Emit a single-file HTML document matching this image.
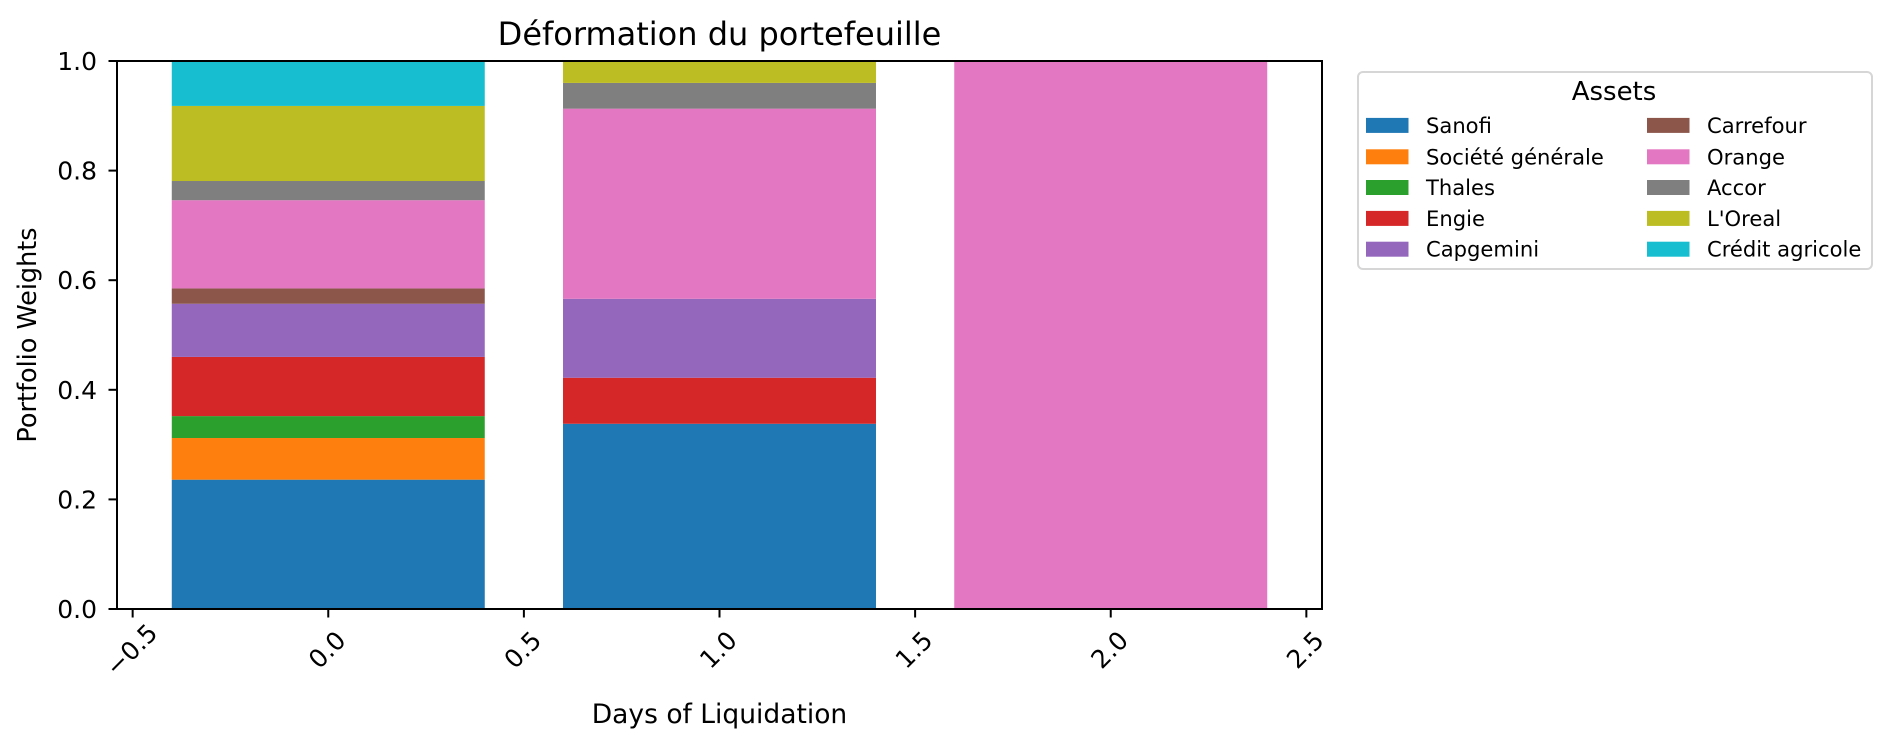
<!DOCTYPE html>
<html><head><meta charset="utf-8"><style>
html,body{margin:0;padding:0;background:#fff;}
svg{display:block;font-family:"DejaVu Sans","Liberation Sans",sans-serif;}
</style></head><body>
<svg id="chart" width="1890" height="748" viewBox="0 0 1890 748" xmlns="http://www.w3.org/2000/svg">
<rect width="1890" height="748" fill="#fff"/>
<g id="bars"></g>
<g id="axes"></g>
<g id="legend"></g>
</svg>
<script>
const categories = [0, 1, 2];
const assets = ["Sanofi","Société générale","Thales","Engie","Capgemini","Carrefour","Orange","Accor","L'Oreal","Crédit agricole"];
const colors = ["#1f77b4","#ff7f0e","#2ca02c","#d62728","#9467bd","#8c564b","#e377c2","#7f7f7f","#bcbd22","#17becf"];
const day0 = [0.236,0.076,0.040,0.108,0.097,0.028,0.161,0.035,0.137,0.082];
const day1 = [0.338,0,0,0.084,0.144,0,0.347,0.047,0.040,0];
const day2 = [0,0,0,0,0,0,1,0,0,0];
const series = [day0, day1, day2];
const xTicks = [-0.5,0,0.5,1,1.5,2,2.5];
const xTickLabels = ["\u22120.5","0.0","0.5","1.0","1.5","2.0","2.5"];
const yTicks = [0,0.2,0.4,0.6,0.8,1.0];
const yTickLabels = ["0.0","0.2","0.4","0.6","0.8","1.0"];

const NS="http://www.w3.org/2000/svg";
const L=117,R=1322,T=61,B=609;
const xmin=-0.54,xmax=2.54;
const X=v=>L+(v-xmin)/(xmax-xmin)*(R-L);
const Y=v=>B-v*(B-T);
function mk(tag,attrs,parent){const e=document.createElementNS(NS,tag);for(const k in attrs)e.setAttribute(k,attrs[k]);parent.appendChild(e);return e;}

const bars=document.getElementById('bars');
categories.forEach((c,ci)=>{
  let base=0;
  series[ci].forEach((v,ai)=>{
    if(v>0){
      const r=mk('rect',{x:X(c-0.4),y:Y(base+v),width:X(c+0.4)-X(c-0.4),height:Y(base)-Y(base+v),fill:colors[ai]},bars);
      
      
    }
    base+=v;
  });
});

const ax=document.getElementById('axes');
const frame=mk('rect',{x:L,y:T,width:R-L,height:B-T,fill:'none',stroke:'#000','stroke-width':2},ax);


xTicks.forEach((t,i)=>{
  const x=X(t);
  mk('line',{x1:x,x2:x,y1:B,y2:B+8.5,stroke:'#000','stroke-width':2},ax);
  const tx=mk('text',{x:x,y:651,'font-size':25,'text-anchor':'middle','dominant-baseline':'middle',transform:`rotate(-45 ${x} 651)`},ax);
  tx.textContent=xTickLabels[i];
  
  
});
yTicks.forEach((t,i)=>{
  const y=Y(t);
  mk('line',{x1:L-8.5,x2:L,y1:y,y2:y,stroke:'#000','stroke-width':2},ax);
  const tx=mk('text',{x:97,y:y+9,'font-size':25,'text-anchor':'end'},ax);
  tx.textContent=yTickLabels[i];
  
  
});
const title=mk('text',{x:(L+R)/2,y:45,'font-size':32,'text-anchor':'middle'},ax);
title.textContent='Déformation du portefeuille';


const xl=mk('text',{x:(L+R)/2,y:723,'font-size':26.5,'text-anchor':'middle'},ax);
xl.textContent='Days of Liquidation';


const yl=mk('text',{x:36,y:335,'font-size':25.5,'text-anchor':'middle',transform:'rotate(-90 36 335)'},ax);
yl.textContent='Portfolio Weights';



const lg=document.getElementById('legend');
const box=mk('rect',{x:1358,y:72,width:514,height:197,rx:5,fill:'#fff',stroke:'#d6d6d6','stroke-width':2},lg);


const lt=mk('text',{x:1614,y:100,'font-size':26,'text-anchor':'middle'},lg);
lt.textContent='Assets';


const rowsY=[125.4,156.8,187.5,218.4,249.2];
assets.forEach((a,i)=>{
  const col=Math.floor(i/5),row=i%5;
  const px=col?1647:1366, tx=col?1707:1426, cy=rowsY[row];
  const g=mk('g',{},lg);
  
  
  mk('rect',{x:px,y:cy-7.5,width:42.5,height:15,fill:colors[i]},g);
  const t=mk('text',{x:tx,y:cy+7.5,'font-size':21.1},g);
  t.textContent=a;
});
</script>
</body></html>
